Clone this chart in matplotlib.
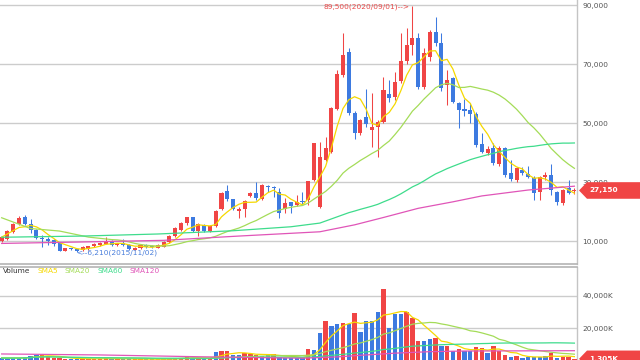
import numpy as np
import pandas as pd
import matplotlib
matplotlib.use('Agg')
import matplotlib.pyplot as plt
from matplotlib.patches import Polygon
from matplotlib.ticker import FuncFormatter

# monthly candles, oldest first (2014/10 .. 2023/01)
opens = [9990, 10800, 13150, 15800, 18300, 15800, 13700, 11100, 10600, 10300,
         9200, 6700, 7500, 7200, 6900, 7250, 8300, 8650, 9150, 9850,
         8700, 9500, 8600, 7100, 7600, 8600, 8400, 7800, 8100, 9800,
         11600, 13600, 16000, 18000, 13300, 15500, 13400, 15000, 20750, 27050,
         24150, 20300, 20750, 25250, 26200, 24150, 28650, 28400, 26700, 20750,
         23300, 22200, 23650, 23900, 30675, 21650, 37450, 40270, 54750, 66270,
         74070, 53500, 46700, 52000, 47630, 48750, 50440, 59730, 58900, 64340,
         71000, 76440, 78700, 62300, 72500, 80750, 77020, 62900, 65150, 56880,
         54850, 54400, 53050, 42880, 39930, 41420, 36100, 41420, 33150, 30675,
         34070, 32700, 31250, 26700, 31800, 32370, 26700, 23000, 27860, 26900]
highs = [11700, 13800, 16100, 18500, 18700, 17500, 14000, 12000, 11300, 10600,
         9400, 7700, 7800, 7400, 8200, 8500, 9200, 9700, 11400, 10300,
         9500, 10600, 8900, 7900, 8900, 8900, 8700, 9000, 10000, 12000,
         14800, 16400, 18300, 18300, 16000, 15800, 15500, 20700, 26800, 29000,
         24400, 21400, 24000, 26800, 29900, 29300, 29000, 28650, 28000, 24700,
         23300, 25700, 26700, 30500, 43400, 43650, 45350, 55300, 68000, 80400,
         75300, 54000, 51500, 61400, 60170, 51000, 65700, 64600, 67400, 80400,
         82100, 89500, 80400, 75400, 81500, 86000, 80400, 67950, 65500, 57200,
         58000, 56700, 53800, 46700, 42200, 43100, 42200, 41800, 37450, 35000,
         35200, 35400, 31900, 32200, 33500, 36100, 27000, 27600, 30680, 28000]
lows = [9700, 10500, 12900, 15500, 15500, 12700, 10800, 8000, 8700, 8300,
        6500, 6500, 6900, 6210, 6700, 7000, 8100, 8400, 8900, 8500,
        8400, 8300, 6900, 6900, 7400, 7800, 7700, 7500, 7900, 9500,
        11300, 13300, 15600, 13000, 11800, 13100, 13100, 14700, 20400, 23600,
        20400, 17800, 18200, 24900, 23800, 23800, 26600, 25000, 17800, 19600,
        19600, 21800, 22650, 22200, 30300, 21300, 37000, 40000, 54400, 65500,
        52700, 44600, 45800, 48500, 42000, 38600, 50000, 57000, 57800, 63500,
        70000, 73050, 61400, 61700, 71000, 76000, 61000, 56100, 56800, 48200,
        52400, 49900, 42000, 39800, 39150, 35700, 35500, 31700, 30300, 30000,
        32500, 31500, 23900, 23900, 30700, 25600, 22200, 22200, 25800, 25800]
closes = [11350, 13500, 15800, 17800, 15800, 13700, 11000, 10600, 10100, 9000,
          6700, 7500, 7200, 6700, 7900, 8300, 8950, 9500, 9850, 8800,
          9200, 8600, 7200, 7600, 8600, 8100, 8000, 8700, 9800, 11700,
          14500, 16000, 18000, 13300, 15800, 13400, 15200, 20300, 26400, 24150,
          20750, 20750, 23650, 26400, 24500, 29000, 28300, 28100, 19600, 23000,
          21950, 23300, 23300, 30350, 43100, 38600, 41400, 55000, 66600, 73050,
          53400, 46500, 51000, 49550, 48750, 50250, 61200, 58380, 64000, 71000,
          76440, 78700, 62300, 73600, 80950, 77000, 61770, 64600, 57200, 54400,
          54170, 53050, 42540, 40270, 41080, 36340, 41420, 32370, 30900, 34640,
          32950, 31800, 26170, 31800, 32370, 27300, 23300, 27300, 26170, 27150]
# volume in thousands of shares, and whether the bar is drawn as "up" (red)
volumes = [1800, 1800, 1800, 1800, 2400, 2900, 3900, 3700, 2900, 1800,
           1800, 1500, 1200, 1500, 1300, 1200, 1400, 1300, 1600, 1300,
           1100, 1200, 1300, 1000, 1100, 1200, 1000, 1100, 1300, 1500,
           1800, 2000, 2400, 2000, 1600, 1500, 1700, 5300, 6300, 6300,
           3400, 3900, 4900, 4500, 3900, 2900, 3400, 4500, 2400, 2000,
           2000, 1900, 1800, 7150, 6700, 16900, 24500, 21400, 22600, 23000,
           22800, 29400, 17500, 24500, 24500, 30200, 44000, 20000, 28700, 28700,
           29800, 26500, 12200, 12200, 13300, 13900, 9200, 9400, 6100, 7100,
           6100, 6100, 8600, 7750, 4700, 9170, 6300, 3670, 2260, 3240,
           2020, 2630, 2200, 2200, 3060, 5080, 1650, 2630, 2630, 1305]
vol_up = [0, 0, 0, 0, 0, 0, 0, 1, 1, 1,
          1, 1, 0, 0, 1, 1, 1, 1, 1, 0,
          1, 0, 0, 1, 1, 0, 0, 1, 1, 1,
          1, 1, 1, 0, 1, 0, 1, 0, 1, 1,
          0, 0, 1, 1, 1, 0, 0, 1, 0, 0,
          0, 0, 0, 1, 0, 0, 1, 0, 0, 1,
          0, 1, 0, 0, 0, 0, 1, 0, 0, 0,
          1, 1, 1, 0, 0, 1, 0, 1, 0, 1,
          0, 0, 1, 1, 0, 1, 1, 1, 0, 1,
          0, 0, 0, 0, 0, 1, 0, 1, 1, 1]

# moving averages whose window reaches before the first visible candle
sma20_head_idx = [0, 5, 10, 15]
sma20_head = [17900, 14250, 13400, 11350]
sma60_head_idx = [0, 14, 27, 40, 50, 55]
sma60_head = [11300, 11700, 12400, 13500, 14850, 16100]
sma120_idx = [0, 14, 28, 41, 55, 61, 66, 72, 78, 83, 91, 99]
sma120 = [9200, 9700, 10250, 11700, 13150, 15500, 18000, 21100, 23300, 25300, 27300, 28600]
vol_sma120_idx = [0, 17, 34, 52, 58, 63, 68, 74, 80, 99]
vol_sma120 = [4300, 3700, 2600, 1700, 2500, 3700, 4800, 5700, 6100, 6300]

high_date = '2020/09/01'
low_date = '2015/11/02'
price_ticks = [10000, 30000, 50000, 70000, 90000]
vol_ticks = [20000, 40000]

RED = '#f04545'
BLUE = '#3d7ae0'
C5, C20, C60, C120 = '#f5d800', '#a4dc58', '#3edc8c', '#e055b8'
GRID = '#cccccc'
TXT = '#555555'
FS = 5.3

W, H = 640, 360
fig = plt.figure(figsize=(W / 100, H / 100), dpi=100)
ax = fig.add_axes([0, (H - 263.5) / H, 577 / W, 263.5 / H])
axv = fig.add_axes([0, 0, 577 / W, 93.3 / H])

n = len(closes)
idx = np.arange(n)
o = np.array(opens, float)
c = np.array(closes, float)
hi = np.array(highs, float)
lo = np.array(lows, float)
up = c >= o
cols = np.where(up, RED, BLUE)

# candles
ax.vlines(idx, lo, hi, colors=cols, lw=0.75, zorder=3)
body = np.maximum(np.abs(c - o), 300)
ax.bar(idx, body, bottom=np.minimum(o, c), width=0.7, color=cols, lw=0, zorder=4)

cs = pd.Series(c)
sma5 = cs.rolling(5, min_periods=1).mean()
sma20 = cs.rolling(20).mean()
sma60 = cs.rolling(60).mean()
ax.plot(idx, sma5, color=C5, lw=0.9, zorder=5)
ax.plot(sma20_head_idx + list(idx[19:]), sma20_head + list(sma20[19:]), color=C20, lw=0.9, zorder=5)
ax.plot(sma60_head_idx + list(idx[59:]), sma60_head + list(sma60[59:]), color=C60, lw=0.9, zorder=5)
ax.plot(sma120_idx, sma120, color=C120, lw=0.9, zorder=5)

# volume
v = pd.Series(volumes, dtype=float)
vcols = [RED if u else BLUE for u in vol_up]
axv.bar(idx, v, width=0.75, color=vcols, lw=0, zorder=3)
axv.plot(idx, v.rolling(5, min_periods=1).mean(), color=C5, lw=0.9, zorder=5)
axv.plot(idx, v.rolling(20, min_periods=1).mean(), color=C20, lw=0.9, zorder=5)
axv.plot(idx, v.rolling(60, min_periods=1).mean(), color=C60, lw=0.9, zorder=5)
axv.plot(vol_sma120_idx, vol_sma120, color=C120, lw=0.9, zorder=5)

for a, lim, ticks, fmt in [(ax, (2400, 91700), price_ticks, '{:,.0f}'),
                           (axv, (600, 57800), vol_ticks, '{:,.0f}K')]:
    a.set_xlim(-0.29, n - 0.55)
    a.set_ylim(*lim)
    a.set_xticks([])
    a.set_yticks(ticks)
    a.yaxis.tick_right()
    a.yaxis.set_major_formatter(FuncFormatter(lambda val, _, f=fmt: f.format(val)))
    a.tick_params(axis='y', length=0, pad=4, labelsize=FS, labelcolor=TXT)
    a.grid(axis='y', color=GRID, lw=1.0)
    a.set_axisbelow(True)
    a.spines['left'].set_visible(False)
    a.spines['right'].set_color('#c4c4c4')
    a.spines['right'].set_linewidth(1.0)
ax.spines['top'].set_visible(False)
ax.spines['bottom'].set_color('#b4b4b4')
ax.spines['bottom'].set_linewidth(1.2)
axv.spines['bottom'].set_visible(False)
axv.spines['top'].set_color('#b4b4b4')
axv.spines['top'].set_linewidth(1.2)

# high / low marks
hi_i = int(np.argmax(hi))
lo_i = int(np.argmin(lo))
ax.text(hi_i - 0.5, hi[hi_i], f'{hi[hi_i]:,.0f}({high_date})-->', ha='right', va='center',
        color='#e84848', fontsize=FS, zorder=6)
ax.text(lo_i - 0.1, lo[lo_i], f'<--{lo[lo_i]:,.0f}({low_date})', ha='left', va='center',
        color='#4a7fdc', fontsize=FS, zorder=6)

# legend row in the volume panel
prev = axv.text(3 / 577, 0.955, 'Volume', transform=axv.transAxes, ha='left', va='center',
                color='#333333', fontsize=FS)
for name, col in [('SMA5', C5), ('SMA20', C20), ('SMA60', C60), ('SMA120', C120)]:
    prev = axv.annotate(name, xy=(1, 0.5), xycoords=prev, xytext=(5, 0), textcoords='offset points',
                        ha='left', va='center', color=col, fontsize=FS)


def tag(a, value, label):
    xr = a.transAxes.transform((1, 0))[0]
    yv = a.transData.transform((0, value))[1]
    h = 8.3
    pts = [(xr + 2, yv), (xr + 10, yv + h), (W, yv + h), (W, yv - h), (xr + 10, yv - h)]
    fig.add_artist(Polygon([(px / W, py / H) for px, py in pts], closed=True,
                           transform=fig.transFigure, fc=RED, ec='none', zorder=5))
    fig.text((xr + 12) / W, yv / H, label, color='white', fontsize=FS, fontweight='bold',
             ha='left', va='center', zorder=6)


tag(ax, c[-1], f'{c[-1]:,.0f}')
tag(axv, v.iloc[-1], f'{v.iloc[-1]:,.0f}K')

fig.savefig('out.png', dpi=100, facecolor='white')
